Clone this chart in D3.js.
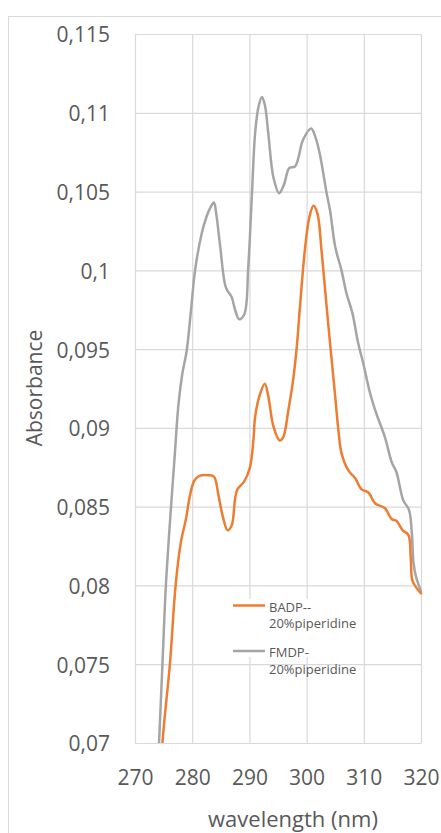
<!DOCTYPE html>
<html>
<head>
<meta charset="utf-8">
<script src="https://cdn.jsdelivr.net/npm/d3@7"></script>
<style>
  html, body { margin: 0; padding: 0; background: #fff; }
  svg { display: block; font-family: "Open Sans", sans-serif; }
</style>
</head>
<body>
<svg id="chart" width="441" height="833"></svg>
<script>
// UV absorbance spectra (wavelength in nm, absorbance)
const seriesNames = ["BADP--\n20%piperidine", "FMDP-\n20%piperidine"];
const seriesColors = ["#ED7D31", "#A5A5A5"];

const badpWavelength = [274.3, 274.8, 276.1, 277.1, 278.0, 278.9, 279.6, 280.3, 281.0,
  281.7, 282.8, 283.8, 284.6, 285.4, 286.2, 286.9, 287.5, 287.9, 289.1,
  290.1, 290.7, 291.0, 291.9, 292.7, 293.3, 294.2, 295.3, 295.9, 296.8,
  297.7, 298.3, 298.8, 299.7, 300.5, 301.2, 301.9, 302.6, 303.5, 304.2,
  305.0, 305.6, 306.1, 307.3, 308.5, 309.6, 310.8, 312.0, 313.7, 314.9,
  315.7, 316.8, 317.8, 318.2, 318.5, 319.3, 320.0];
const badpAbsorbance = [0.0660, 0.0700, 0.0750, 0.0800, 0.0827, 0.0842, 0.0857, 0.0866, 0.0869,
  0.0870, 0.0870, 0.0869, 0.0857, 0.0843, 0.0835, 0.0838, 0.0855, 0.0861, 0.0866,
  0.0875, 0.0892, 0.0907, 0.0922, 0.0928, 0.0920, 0.0901, 0.0892, 0.0894, 0.0911,
  0.0932, 0.0952, 0.0975, 0.1013, 0.1034, 0.1041, 0.1036, 0.1013, 0.0977, 0.0950,
  0.0920, 0.0897, 0.0884, 0.0873, 0.0868, 0.0861, 0.0859, 0.0852, 0.0849, 0.0842,
  0.0841, 0.0835, 0.0832, 0.0818, 0.0803, 0.0798, 0.0795];

const fmdpWavelength = [273.6, 274.2, 274.8, 275.4, 276.3, 276.9, 277.6, 278.3, 279.0, 279.8,
  280.5, 281.7, 282.5, 283.2, 283.8, 284.2, 284.9, 285.9, 286.9, 287.5,
  288.2, 289.1, 289.8, 290.4, 291.0, 291.6, 292.2, 292.7, 293.3, 294.2,
  295.2, 296.0, 297.0, 298.0, 299.4, 300.8, 301.5, 302.3, 303.5, 304.1,
  305.0, 306.1, 307.0, 308.0, 309.0, 309.9, 311.1, 312.2, 313.7, 314.9,
  315.7, 316.9, 317.9, 318.4, 318.7, 319.1, 320.0];
const fmdpAbsorbance = [0.0650, 0.0700, 0.0750, 0.0800, 0.0850, 0.0880, 0.0915, 0.0935, 0.0948, 0.0975,
  0.1000, 0.1024, 0.1034, 0.1040, 0.1043, 0.1036, 0.1015, 0.0989, 0.0983, 0.0975,
  0.0969, 0.0972, 0.1002, 0.1045, 0.1087, 0.1104, 0.1110, 0.1105, 0.1087, 0.1059,
  0.1049, 0.1054, 0.1065, 0.1066, 0.1083, 0.1090, 0.1085, 0.1074, 0.1049, 0.1038,
  0.1015, 0.1000, 0.0985, 0.0973, 0.0954, 0.0941, 0.0922, 0.0909, 0.0894, 0.0878,
  0.0872, 0.0854, 0.0848, 0.0833, 0.0814, 0.0806, 0.0796];

const xTicks = [270, 280, 290, 300, 310, 320];
const yTicks = [0.07, 0.075, 0.08, 0.085, 0.09, 0.095, 0.1, 0.105, 0.11, 0.115];

const svg = d3.select("#chart");
const plot = { left: 135, right: 421, top: 34, bottom: 743 };

const x = d3.scaleLinear().domain([270, 320]).range([plot.left, plot.right]);
const y = d3.scaleLinear().domain([0.07, 0.115]).range([plot.bottom, plot.top]);

const locale = d3.formatLocale({ decimal: ",", thousands: ".", grouping: [3], currency: ["", ""] });
const fmt = locale.format("~g");

const textColor = "#595959";
const gridColor = "#D9D9D9";

// outer chart frame
svg.append("rect")
  .attr("x", 8.5).attr("y", 16.5)
  .attr("width", 460).attr("height", 840)
  .attr("fill", "#fff").attr("stroke", gridColor).attr("stroke-width", 1);

// gridlines
svg.append("g")
  .attr("transform", `translate(${plot.left},0)`)
  .call(d3.axisLeft(y).tickValues(yTicks).tickSize(-(plot.right - plot.left)).tickFormat(""))
  .call(g => g.select(".domain").remove())
  .call(g => g.selectAll("line").attr("stroke", gridColor).attr("stroke-width", 1.2));

svg.append("g")
  .attr("transform", `translate(0,${plot.bottom})`)
  .call(d3.axisBottom(x).tickValues(xTicks).tickSize(-(plot.bottom - plot.top)).tickFormat(""))
  .call(g => g.select(".domain").remove())
  .call(g => g.selectAll("line").attr("stroke", gridColor).attr("stroke-width", 1.2));

// axis labels
const yAxis = svg.append("g")
  .attr("transform", `translate(${plot.left},0)`)
  .call(d3.axisLeft(y).tickValues(yTicks).tickSize(0).tickPadding(25).tickFormat(fmt));
yAxis.select(".domain").remove();
yAxis.selectAll("text")
  .attr("fill", textColor).attr("dy", "0.38em")
  .style("font-size", "21px").style("font-family", "'Open Sans', sans-serif");

const xAxis = svg.append("g")
  .attr("transform", `translate(0,${plot.bottom})`)
  .call(d3.axisBottom(x).tickValues(xTicks).tickSize(0).tickPadding(27).tickFormat(d3.format("d")));
xAxis.select(".domain").attr("stroke", gridColor).attr("stroke-width", 1.2);
xAxis.selectAll("text")
  .attr("fill", textColor)
  .style("font-size", "21px").style("font-family", "'Open Sans', sans-serif");

// axis titles
svg.append("text")
  .attr("transform", "translate(42,388) rotate(-90)")
  .attr("text-anchor", "middle")
  .attr("fill", textColor)
  .style("font-size", "21px")
  .text("Absorbance");

svg.append("text")
  .attr("x", 293).attr("y", 827)
  .attr("text-anchor", "middle")
  .attr("fill", textColor)
  .style("font-size", "22px")
  .text("wavelength (nm)");

// clip the spectra to the plot area
svg.append("clipPath").attr("id", "plotClip")
  .append("rect")
  .attr("x", plot.left).attr("y", plot.top - 2)
  .attr("width", plot.right - plot.left + 2).attr("height", plot.bottom - plot.top + 2);

const line = d3.line()
  .x(d => x(d[0]))
  .y(d => y(d[1]))
  .curve(d3.curveCatmullRom.alpha(0.5));

const series = [
  d3.zip(badpWavelength, badpAbsorbance),
  d3.zip(fmdpWavelength, fmdpAbsorbance)
];

const lines = svg.append("g").attr("clip-path", "url(#plotClip)");
// FMDP drawn first, BADP on top
[1, 0].forEach(i => {
  lines.append("path")
    .datum(series[i])
    .attr("fill", "none")
    .attr("stroke", seriesColors[i])
    .attr("stroke-width", 2.5)
    .attr("stroke-linejoin", "round")
    .attr("stroke-linecap", "round")
    .attr("d", line);
});

// legend
const legend = svg.append("g");
legend.append("rect")
  .attr("x", 228).attr("y", 599)
  .attr("width", 135).attr("height", 58)
  .attr("fill", "#fff");

const legendRows = [605.5, 651];
seriesNames.forEach((name, i) => {
  const ly = legendRows[i];
  legend.append("line")
    .attr("x1", 233).attr("x2", 265)
    .attr("y1", ly).attr("y2", ly)
    .attr("stroke", seriesColors[i]).attr("stroke-width", 2.5);
  const t = legend.append("text")
    .attr("x", 269).attr("y", ly + 6)
    .attr("fill", textColor)
    .style("font-size", "13px");
  name.split("\n").forEach((part, k) => {
    t.append("tspan").attr("x", 269).attr("dy", k === 0 ? 0 : 16.5).text(part);
  });
});
</script>
</body>
</html>
